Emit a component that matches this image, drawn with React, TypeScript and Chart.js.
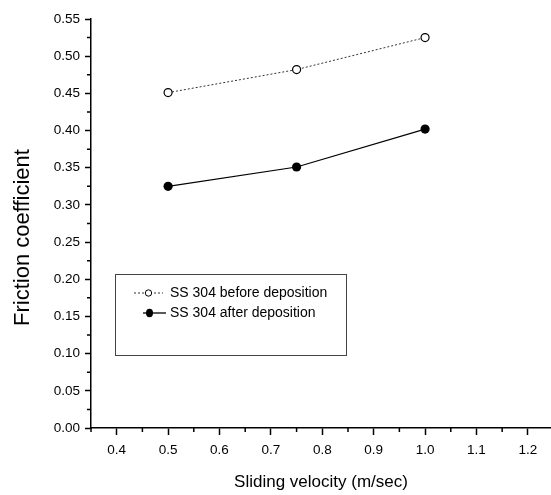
import { useEffect, useRef } from "react";
import { Chart, registerables } from "chart.js";

Chart.register(...registerables);

const velocities = [0.5, 0.75, 1.0];
const beforeDeposition = [0.451, 0.482, 0.525];
const afterDeposition = [0.325, 0.351, 0.402];
const seriesLabels = ["SS 304 before deposition", "SS 304 after deposition"];
const xMajorTicks = [0.4, 0.5, 0.6, 0.7, 0.8, 0.9, 1.0, 1.1, 1.2];
const xMinorTicks = [0.35, 0.45, 0.55, 0.65, 0.75, 0.85, 0.95, 1.05, 1.15];
const yMajorTicks = [0, 0.05, 0.1, 0.15, 0.2, 0.25, 0.3, 0.35, 0.4, 0.45, 0.5, 0.55];
const yMinorTicks = [0.025, 0.075, 0.125, 0.175, 0.225, 0.275, 0.325, 0.375, 0.425, 0.475, 0.525];
const xTitle = "Sliding velocity (m/sec)";
const yTitle = "Friction coefficient";

const FONT = "'Liberation Sans', Arial, sans-serif";

export default function App() {
  const ref = useRef<HTMLCanvasElement | null>(null);

  useEffect(() => {
    if (!ref.current) return;

    const minorTicks = {
      id: "minorTicks",
      afterDraw(chart: any) {
        const { ctx, chartArea, scales } = chart;
        ctx.save();
        ctx.strokeStyle = "#000";
        ctx.lineWidth = 1.5;
        ctx.beginPath();
        xMinorTicks.forEach((v) => {
          const px = scales.x.getPixelForValue(v);
          ctx.moveTo(px, chartArea.bottom);
          ctx.lineTo(px, chartArea.bottom + 4);
        });
        yMinorTicks.forEach((v) => {
          const py = scales.y.getPixelForValue(v);
          ctx.moveTo(chartArea.left - 4, py);
          ctx.lineTo(chartArea.left, py);
        });
        ctx.stroke();
        ctx.restore();
      },
    };

    const yTitlePlugin = {
      id: "yTitle",
      afterDraw(chart: any) {
        const { ctx, chartArea } = chart;
        ctx.save();
        ctx.translate(22.5, (chartArea.top + chartArea.bottom) / 2 + 14);
        ctx.rotate(-Math.PI / 2);
        ctx.font = `22px ${FONT}`;
        ctx.fillStyle = "#000";
        ctx.textAlign = "center";
        ctx.textBaseline = "middle";
        ctx.fillText(yTitle, 0, 0);
        ctx.restore();
      },
    };

    const boxLegend = {
      id: "boxLegend",
      afterDraw(chart: any) {
        const { ctx } = chart;
        ctx.save();
        ctx.strokeStyle = "#444";
        ctx.lineWidth = 1;
        ctx.strokeRect(115.5, 274.5, 231, 81);
        ctx.font = `14px ${FONT}`;
        ctx.fillStyle = "#000";
        ctx.textBaseline = "middle";
        ctx.textAlign = "left";
        // row 1
        let y = 293;
        ctx.strokeStyle = "#333";
        ctx.setLineDash([2, 2]);
        ctx.beginPath();
        ctx.moveTo(134, y);
        ctx.lineTo(163, y);
        ctx.stroke();
        ctx.setLineDash([]);
        ctx.beginPath();
        ctx.arc(148.5, y, 3.2, 0, Math.PI * 2);
        ctx.fillStyle = "#fff";
        ctx.fill();
        ctx.strokeStyle = "#000";
        ctx.lineWidth = 1;
        ctx.stroke();
        ctx.fillStyle = "#000";
        ctx.fillText(seriesLabels[0], 170, y);
        // row 2
        y = 313;
        ctx.beginPath();
        ctx.lineWidth = 1.3;
        ctx.moveTo(143, y);
        ctx.lineTo(166, y);
        ctx.stroke();
        ctx.beginPath();
        ctx.ellipse(149.5, y, 3.5, 4.2, 0, 0, Math.PI * 2);
        ctx.fill();
        ctx.fillText(seriesLabels[1], 170, y);
        ctx.restore();
      },
    };

    const chart = new Chart(ref.current, {
      type: "line",
      data: {
        datasets: [
          {
            label: seriesLabels[0],
            data: velocities.map((x, i) => ({ x, y: beforeDeposition[i] })),
            borderColor: "#333",
            borderWidth: 1,
            borderDash: [2, 2],
            pointRadius: 4,
            pointBorderWidth: 1.2,
            pointBackgroundColor: "#fff",
            pointBorderColor: "#000",
            showLine: true,
            tension: 0,
          },
          {
            label: seriesLabels[1],
            data: velocities.map((x, i) => ({ x, y: afterDeposition[i] })),
            borderColor: "#000",
            borderWidth: 1.2,
            pointRadius: 4.6,
            pointBorderWidth: 0,
            pointBackgroundColor: "#000",
            pointBorderColor: "#000",
            showLine: true,
            tension: 0,
          },
        ],
      },
      options: {
        animation: false,
        responsive: false,
        devicePixelRatio: 1,
        layout: { autoPadding: false, padding: { top: 19, right: 0, bottom: 0, left: 0 } },
        plugins: {
          legend: { display: false },
          tooltip: { enabled: false },
        },
        scales: {
          x: {
            type: "linear",
            min: 0.35,
            max: 1.245,
            afterBuildTicks: (s: any) => {
              s.ticks = xMajorTicks.map((v) => ({ value: v }));
            },
            afterFit: (s: any) => {
              s.height = 67;
            },
            ticks: {
              callback: (v: any) => Number(v).toFixed(1),
              font: { family: FONT, size: 13.5 },
              color: "#000",
              padding: 7,
              maxRotation: 0,
              autoSkip: false,
            },
            grid: {
              drawOnChartArea: false,
              drawTicks: true,
              tickLength: 7,
              tickColor: "#000",
              tickWidth: 1.5,
            },
            border: { display: true, color: "#000", width: 1.5 },
            title: {
              display: true,
              text: xTitle,
              color: "#000",
              font: { family: FONT, size: 17 },
              padding: { top: 0, bottom: 2 },
            },
          },
          y: {
            type: "linear",
            min: 0,
            max: 0.55,
            afterBuildTicks: (s: any) => {
              s.ticks = yMajorTicks.map((v) => ({ value: v }));
            },
            afterFit: (s: any) => {
              s.width = 91;
            },
            ticks: {
              callback: (v: any) => Number(v).toFixed(2),
              font: { family: FONT, size: 13.5 },
              color: "#000",
              padding: 5,
              autoSkip: false,
            },
            grid: {
              drawOnChartArea: false,
              drawTicks: true,
              tickLength: 6,
              tickColor: "#000",
              tickWidth: 1.5,
            },
            border: { display: true, color: "#000", width: 1.5 },
            title: { display: false },
          },
        },
      },
      plugins: [minorTicks, yTitlePlugin, boxLegend],
    });

    return () => chart.destroy();
  }, []);

  return (
    <div style={{ position: "absolute", left: 0, top: 0, width: 551, height: 495, background: "#fff" }}>
      <canvas ref={ref} width={551} height={495} style={{ width: 551, height: 495, display: "block" }} />
    </div>
  );
}
